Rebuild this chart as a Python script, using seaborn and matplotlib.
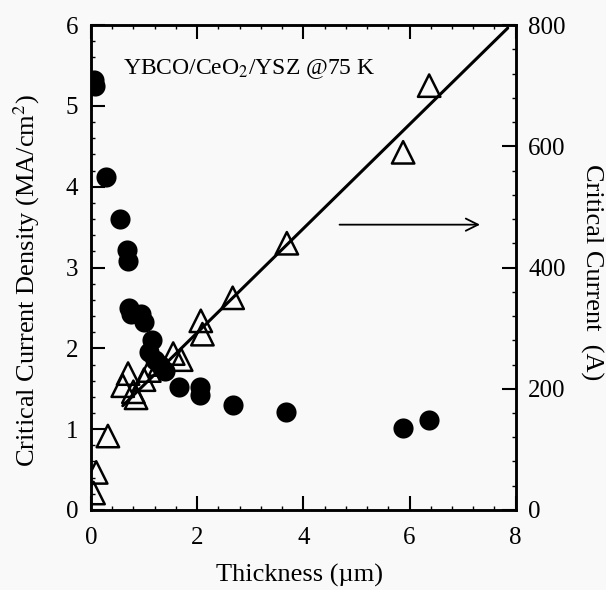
import numpy as np
import pandas as pd
import matplotlib
matplotlib.use("Agg")
import matplotlib.pyplot as plt
import seaborn as sns
from matplotlib.ticker import MultipleLocator

# critical current density (MA/cm2), filled circles, left axis
jc_thick = [0.05, 0.08, 0.28, 0.55, 0.68, 0.70, 0.72, 0.75, 0.95, 1.00, 1.15, 1.10,
            1.20, 1.30, 1.40, 1.65, 2.05, 2.05, 2.68, 3.67, 5.87, 6.37]
jc_vals = [5.32, 5.25, 4.12, 3.60, 3.22, 3.08, 2.50, 2.42, 2.42, 2.32, 2.10, 1.95,
           1.85, 1.80, 1.72, 1.52, 1.52, 1.42, 1.30, 1.21, 1.01, 1.11]

# critical current (A), open triangles, right axis
ic_thick = [0.05, 0.10, 0.32, 0.60, 0.70, 0.80, 0.85, 1.00, 1.10, 1.30, 1.55, 1.70,
            2.07, 2.10, 2.67, 3.69, 5.88, 6.37]
ic_vals = [28, 62, 122, 205, 225, 195, 185, 215, 230, 240, 258, 248,
           312, 290, 350, 440, 590, 700]

# linear fit through the Ic data
fit_thick = [0.6, 7.85]
fit_vals = [172, 795]

jc = pd.DataFrame({"thick": jc_thick, "jc": jc_vals})
ic = pd.DataFrame({"thick": ic_thick, "ic": ic_vals})
fit = pd.DataFrame({"thick": fit_thick, "ic": fit_vals})

sns.set_theme(style="ticks")
plt.rcParams["font.family"] = ["Liberation Serif", "DejaVu Serif"]
plt.rcParams["mathtext.fontset"] = "stix"
plt.rcParams["text.color"] = "black"
plt.rcParams["axes.labelcolor"] = "black"
plt.rcParams["xtick.color"] = "black"
plt.rcParams["ytick.color"] = "black"

bg = "#f9f9f9"
fig = plt.figure(figsize=(6.06, 5.9), dpi=100, facecolor=bg)
ax = fig.add_axes([0.150, 0.1356, 0.701, 0.822])
ax.set_facecolor(bg)
ax2 = ax.twinx()

sns.scatterplot(data=jc, x="thick", y="jc", ax=ax, color="black", s=210,
                marker="o", edgecolor="black", linewidth=0, zorder=3)
sns.lineplot(data=fit, x="thick", y="ic", ax=ax2, color="black", lw=2.2)
sns.scatterplot(data=ic, x="thick", y="ic", ax=ax2, marker="^", s=260,
                facecolor="none", edgecolor="black", linewidth=1.8, zorder=4)

ax.set_xlim(0, 8)
ax.set_ylim(0, 6)
ax2.set_ylim(0, 800)

ax.xaxis.set_major_locator(MultipleLocator(2))
ax.xaxis.set_minor_locator(MultipleLocator(0.4))
ax.yaxis.set_major_locator(MultipleLocator(1))
ax.yaxis.set_minor_locator(MultipleLocator(0.2))
ax2.yaxis.set_major_locator(MultipleLocator(200))
ax2.yaxis.set_minor_locator(MultipleLocator(40))

ax.tick_params(axis="x", which="major", pad=12)
ax.tick_params(which="major", direction="in", length=10, width=1.5,
               labelsize=18, top=True, right=False)
ax.tick_params(axis="y", which="major", pad=9)
ax.tick_params(which="minor", direction="in", length=3, width=1, top=True, right=False)
ax2.tick_params(which="major", direction="in", length=10, width=1.5, labelsize=18, pad=9)
ax2.tick_params(which="minor", direction="in", length=3, width=1)

for a in (ax, ax2):
    for sp in a.spines.values():
        sp.set_linewidth(1.8)
        sp.set_color("black")

ax.set_xlabel("Thickness (µm)", fontsize=19, va="center")
ax.xaxis.set_label_coords(0.49, -0.134)
ax.set_ylabel("Critical Current Density (MA/cm$^2$)", fontsize=19, va="center")
ax.yaxis.set_label_coords(-0.151, 0.474)
ax2.set_ylabel("Critical Current  (A)", fontsize=19, rotation=270, va="center")
ax2.yaxis.set_label_coords(1.179, 0.49)

ax.text(0.6, 5.45, "YBCO/CeO$_2$/YSZ @75 K", fontsize=17, va="center", ha="left")
ax.annotate("", xy=(7.38, 3.53), xytext=(4.63, 3.53),
            arrowprops=dict(arrowstyle="->", color="black", lw=1.3,
                            mutation_scale=22))

fig.savefig("out.png", dpi=100, facecolor=fig.get_facecolor())
